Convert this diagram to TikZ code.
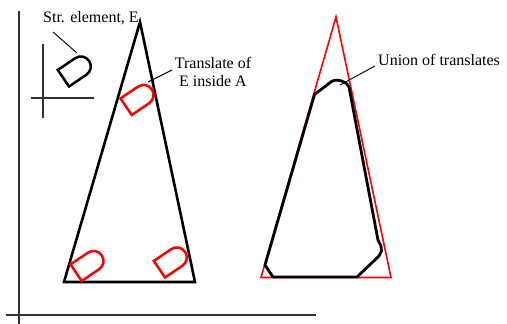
\documentclass[tikz,border=0pt]{standalone}
\usepackage{fontspec}
\setmainfont{Liberation Serif}
\begin{document}
\begin{tikzpicture}[x=1pt,y=-1pt,
  axis/.style={line width=1.1pt,black!80},
  leader/.style={line width=0.9pt},
  lbl/.style={inner sep=0pt,font=\fontsize{16}{18}\selectfont},
  setA/.style={line width=2.6pt,line join=miter},
  setAr/.style={line width=1.6pt,red},
  union/.style={line width=2.8pt,line join=round},
  pics/eshape/.style={code={
    \begin{scope}[x={(0.829pt,0.559pt)},y={(-0.559pt,0.829pt)}]
      \draw[pic actions] (0,20) -- (0,0) -- (21,0) arc[start angle=-90,end angle=90,radius=10] -- cycle;
    \end{scope}}},
  eblack/.style={line width=2.5pt,black,line join=miter},
  ered/.style={line width=2.5pt,red,line join=miter}]
\useasboundingbox (0,0) rectangle (507,324);
% main axes
\coordinate (yTop) at (19,11);
\coordinate (yBot) at (19,324);
\coordinate (xL) at (6,315);
\coordinate (xR) at (316,315);
\draw[axis] (yTop) -- (yBot);
\draw[axis] (xL) -- (xR);
% small axes
\coordinate (syT) at (43,44);
\coordinate (syB) at (43,118);
\coordinate (sxL) at (31,98);
\coordinate (sxR) at (94,98);
\draw[axis] (syT) -- (syB);
\draw[axis] (sxL) -- (sxR);
% structuring element
\pic[eblack] at (69,86.5) {eshape};
% set A (left)
\coordinate (aTop) at (140,22);
\coordinate (aL) at (64,282);
\coordinate (aR) at (195,282);
\draw[setA] (aTop) -- (aR) -- (aL) -- cycle;
% translates
\pic[ered] at (131.7,115) {eshape};
\pic[ered] at (81.7,281) {eshape};
\pic[ered] at (165,277.5) {eshape};
% right: set A in red and union
\coordinate (bTop) at (336,17);
\coordinate (bL) at (261,277.5);
\coordinate (bR) at (391,277.5);
\draw[setAr] (bTop) -- (bR) -- (bL) -- cycle;
\draw[union] (273,277) -- (265,265) -- (314.5,94.5) -- (331.5,81.5)
  .. controls (335,79.5) and (340,79.5) .. (346,83) -- (349,87) -- (378,240)
  -- (381,246) -- (381.5,251) -- (379,256) -- (357,277) -- cycle;
% labels
\node[lbl,anchor=west] (lblE) at (43,18) {Str. element, E};
\node[lbl,align=center] (lblT) at (213,71.5) {Translate of\\E inside A};
\node[lbl,anchor=west] (lblU) at (378,60) {Union of translates};
\coordinate (lEs) at (53,32);
\coordinate (lEe) at (77,53);
\coordinate (lTs) at (172,70);
\coordinate (lTe) at (148,82);
\coordinate (lUs) at (375,66);
\coordinate (lUe) at (340,85);
\draw[leader] (lEs) -- (lEe);
\draw[leader] (lTs) -- (lTe);
\draw[leader] (lUs) -- (lUe);
\end{tikzpicture}
\end{document}
